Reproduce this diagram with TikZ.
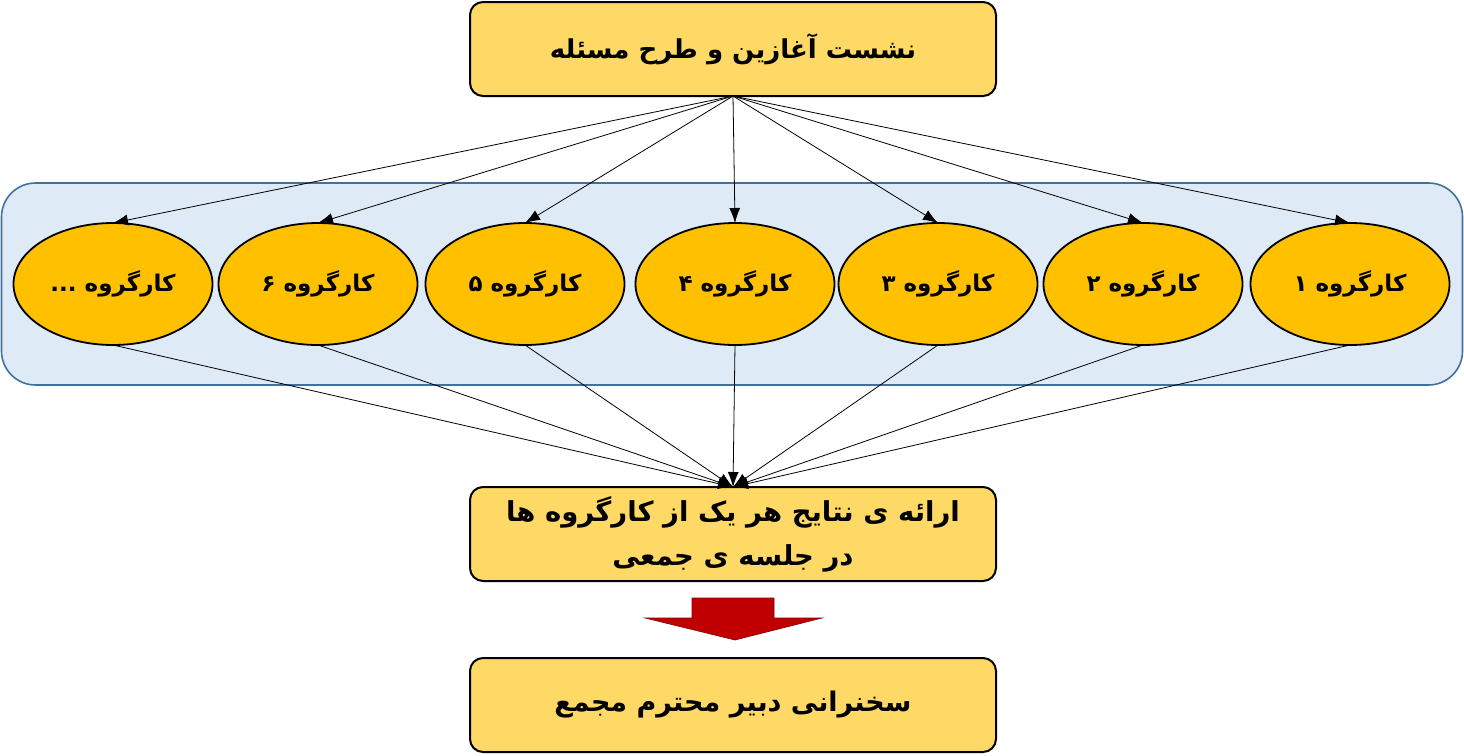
\documentclass[tikz,border=0pt]{standalone}
\usepackage{fontspec}
\usetikzlibrary{shapes.geometric,arrows.meta}
\TeXXeTstate=1
\newfontfamily\fa[Script=Arabic]{DejaVu Sans}
\definecolor{boxyellow}{HTML}{FFD966}
\definecolor{ellorange}{HTML}{FFC000}
\definecolor{contfill}{HTML}{DEEBF7}
\definecolor{contline}{HTML}{41719C}
\definecolor{arrred}{HTML}{C00000}
\tikzset{
  stepbox/.style={draw=black, line width=2pt, fill=boxyellow, rounded corners=13pt,
    minimum width=526pt, minimum height=94pt, inner sep=0pt, outer sep=0pt,
    align=center, font=\fa\bfseries\fontsize{26}{34}\selectfont},
  grp/.style={ellipse, draw=black, line width=1.8pt, fill=ellorange,
    minimum width=199pt, minimum height=122pt, inner sep=0pt, outer sep=0pt,
    font=\fa\bfseries\fontsize{23}{28}\selectfont},
  conn/.style={draw=black, line width=0.8pt, -{Latex[length=15pt,width=11pt]}},
}
\begin{document}
\begin{tikzpicture}[x=1pt,y=-1pt]
\useasboundingbox (0,0) rectangle (1464,755);
\node[draw=contline, line width=1.6pt, fill=contfill, rounded corners=34pt,
  minimum width=1461pt, minimum height=202pt, inner sep=0pt] (cont) at (732,284) {};
\node[stepbox] (top) at (733,49) {\beginR نشست آغازین و طرح مسئله\endR};
\node[grp] (e7) at (113,284) {\beginR کارگروه ...\endR};
\node[grp] (e6) at (318,284) {\beginR کارگروه ۶\endR};
\node[grp] (e5) at (525,284) {\beginR کارگروه ۵\endR};
\node[grp] (e4) at (735,284) {\beginR کارگروه ۴\endR};
\node[grp] (e3) at (938,284) {\beginR کارگروه ۳\endR};
\node[grp] (e2) at (1143,284) {\beginR کارگروه ۲\endR};
\node[grp] (e1) at (1350,284) {\beginR کارگروه ۱\endR};
\node[stepbox, font=\fa\bfseries\fontsize{27.5}{44}\selectfont] (mid) at (733,534) {\beginR ارائه ی نتایج هر یک از کارگروه ها\endR\\\beginR در جلسه ی جمعی\endR};
\node[stepbox, font=\fa\bfseries\fontsize{27}{34}\selectfont] (bot) at (733,705) {\beginR سخنرانی دبیر محترم مجمع\endR};
\foreach \e in {e1,e2,e3,e4,e5,e6,e7}{
  \draw[conn] (top.south) -- (\e.north);
  \draw[conn] (\e.south) -- (mid.north);
}
\fill[arrred, draw=arrred!70!black, line width=0.6pt]
  (692,598) -- (774,598) -- (774,618) -- (822,618) -- (735,640) -- (645,618) -- (692,618) -- cycle;
\end{tikzpicture}
\end{document}
